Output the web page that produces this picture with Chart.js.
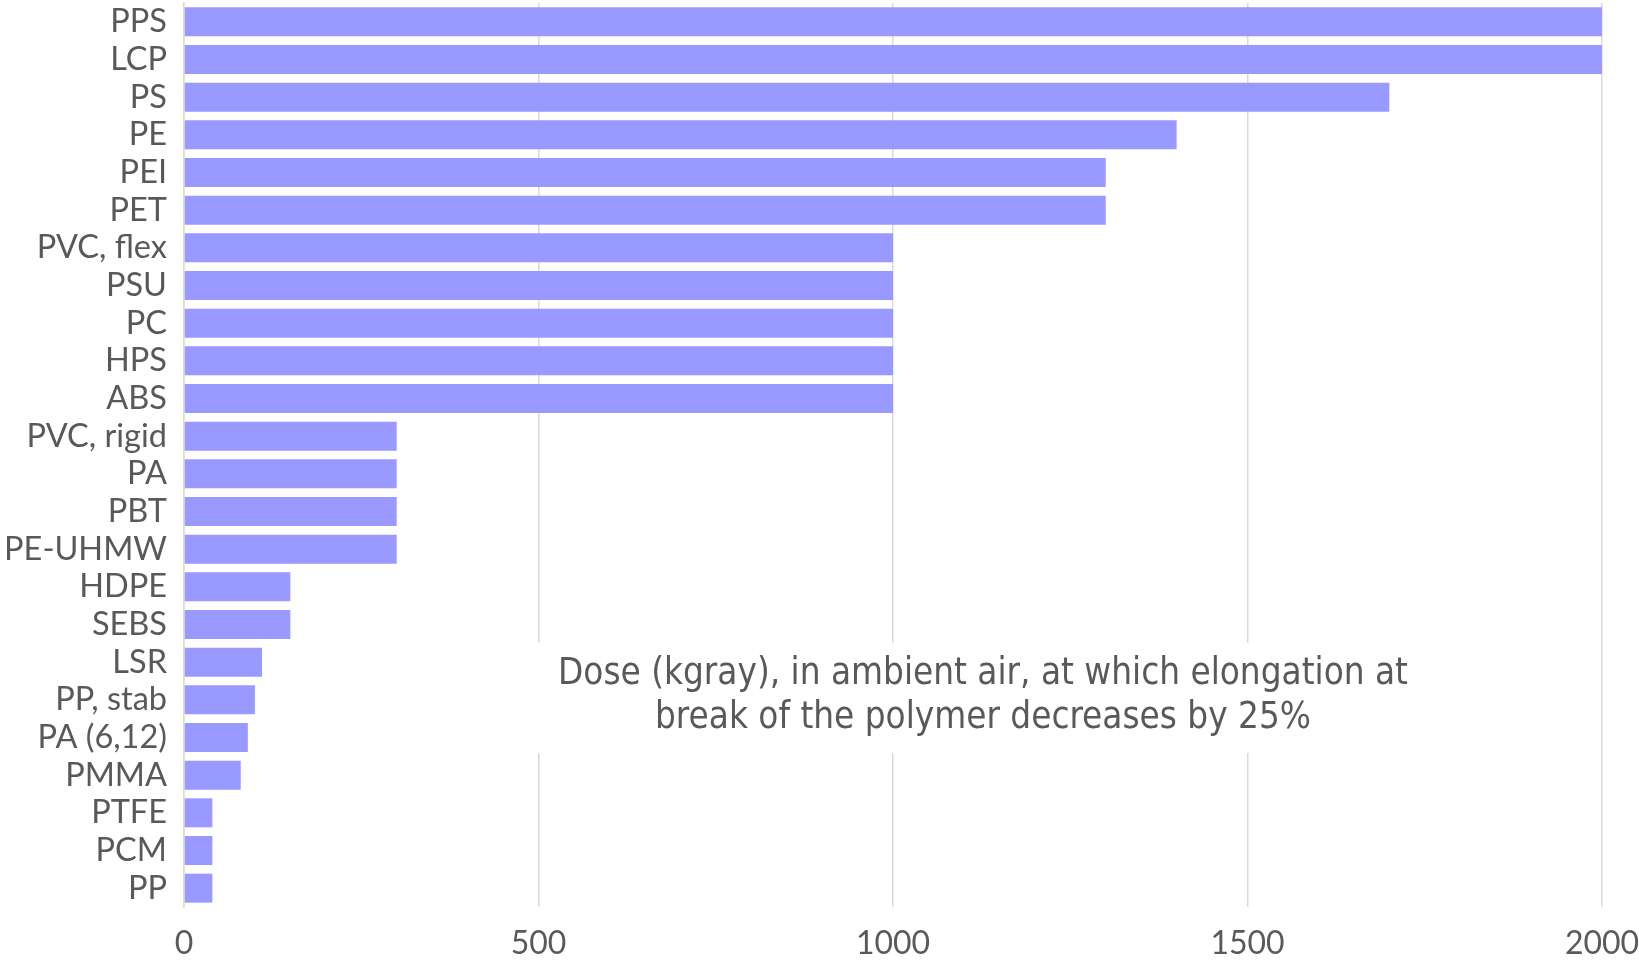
<!DOCTYPE html>
<html>
<head>
<meta charset="utf-8">
<script src="https://cdn.jsdelivr.net/npm/chart.js@4.4.1/dist/chart.umd.min.js"></script>
<style>
    html, body { margin: 0; padding: 0; background: #fff; }
    #wrap { width: 1639px; height: 961px; }
</style>
</head>
<body>
<div id="wrap"><canvas id="doseChart" width="1639" height="961"></canvas></div>
<script>
const polymers = ['PPS', 'LCP', 'PS', 'PE', 'PEI', 'PET', 'PVC, flex', 'PSU', 'PC', 'HPS', 'ABS',
    'PVC, rigid', 'PA', 'PBT', 'PE-UHMW', 'HDPE', 'SEBS', 'LSR', 'PP, stab', 'PA (6,12)', 'PMMA',
    'PTFE', 'PCM', 'PP'];
const doseKgray = [2000, 2000, 1700, 1400, 1300, 1300, 1000, 1000, 1000, 1000, 1000,
    300, 300, 300, 300, 150, 150, 110, 100, 90, 80, 40, 40, 40];
const xTicks = [0, 500, 1000, 1500, 2000];
const noteLines = ['Dose (kgray), in ambient air, at which elongation at', 'break of the polymer decreases by 25%'];

const textColor = '#595959';
const gridColor = '#d9d9d9';
const labelFont = 'Lato, "Open Sans", sans-serif';

// caption box sitting inside the plot area
const notePlugin = {
    id: 'note',
    afterDraw(chart) {
        const { ctx } = chart;
        ctx.save();
        ctx.fillStyle = '#fff';
        ctx.fillRect(522, 643, 922, 110);
        ctx.fillStyle = textColor;
        ctx.font = '36.5px Tahoma, "DejaVu Sans Condensed", "DejaVu Sans", sans-serif';
        ctx.textAlign = 'center';
        ctx.textBaseline = 'middle';
        noteLines.forEach((line, i) => ctx.fillText(line, 983, 675 + i * 44));
        ctx.restore();
    },
};

new Chart(document.getElementById('doseChart'), {
    type: 'bar',
    data: {
        labels: polymers,
        datasets: [{
            data: doseKgray,
            backgroundColor: '#9999ff',
            borderWidth: 0,
            barPercentage: 0.77,
            categoryPercentage: 1,
        }],
    },
    options: {
        indexAxis: 'y',
        responsive: false,
        animation: false,
        layout: { padding: { top: 3, right: 37, left: 0, bottom: 0 } },
        plugins: {
            legend: { display: false },
            tooltip: { enabled: false },
        },
        scales: {
            x: {
                min: 0,
                max: 2000,
                afterBuildTicks: (scale) => { scale.ticks = xTicks.map((v) => ({ value: v })); },
                afterFit: (scale) => {
                    scale.height = 54;
                    scale.paddingLeft = 0;
                    scale.paddingRight = 0;
                },
                border: { display: false },
                grid: { color: gridColor, lineWidth: 1.5, drawTicks: false },
                ticks: {
                    color: textColor,
                    padding: 17,
                    maxRotation: 0,
                    callback: (v) => String(v),
                    font: { family: labelFont, size: 32 },
                },
            },
            y: {
                afterFit: (scale) => {
                    scale.width = 184;
                    scale.paddingTop = 0;
                    scale.paddingBottom = 0;
                },
                border: { display: true, color: gridColor, width: 1.5 },
                grid: { display: false, drawTicks: false },
                ticks: { color: textColor, padding: 17, autoSkip: false, font: { family: labelFont, size: 32.5 } },
            },
        },
    },
    plugins: [notePlugin],
});
</script>
</body>
</html>
